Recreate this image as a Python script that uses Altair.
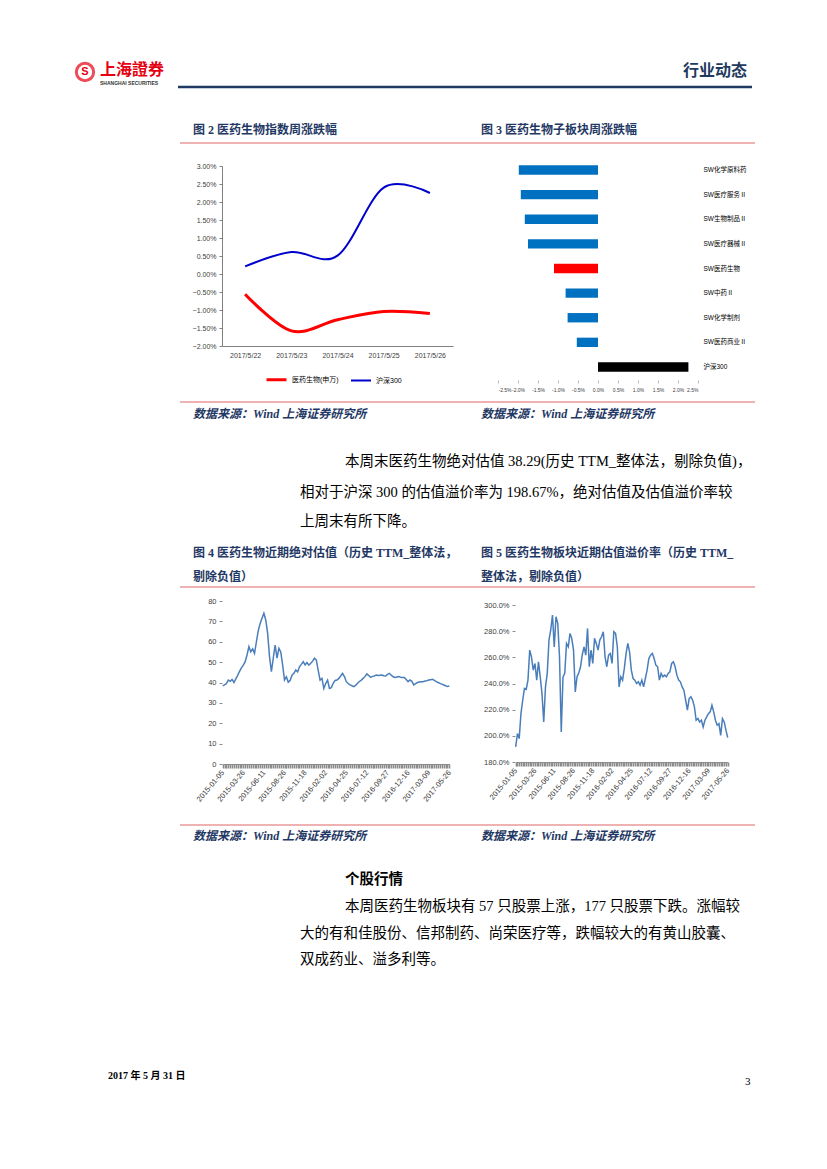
import json
import altair as alt
import pandas as pd

# ---------------- data ----------------
# Fig 2: weekly cumulative change
days2 = ["2017/5/22", "2017/5/23", "2017/5/24", "2017/5/25", "2017/5/26"]
series2 = ["医药生物(申万)", "沪深300"]
med2 = [-0.0056, -0.0158, -0.0127, -0.0104, -0.0110]
hs2 = [0.0021, 0.0061, 0.0051, 0.0240, 0.0225]

# Fig 3: sub-sector weekly change
cats3 = ["SW化学原料药", "SW医疗服务Ⅱ", "SW生物制品Ⅱ", "SW医疗器械Ⅱ", "SW医药生物",
         "SW中药Ⅱ", "SW化学制剂", "SW医药商业Ⅱ", "沪深300"]
vals3 = [-0.0198, -0.0193, -0.0183, -0.0175, -0.0110, -0.0081, -0.0076, -0.0053, 0.0226]
colors3 = ["#0070C0", "#0070C0", "#0070C0", "#0070C0", "#FF0000",
           "#0070C0", "#0070C0", "#0070C0", "#000000"]
ticks3 = [-0.025, -0.02, -0.015, -0.01, -0.005, 0.0, 0.005, 0.01, 0.015, 0.02, 0.025]
ticks2 = [-0.02, -0.015, -0.01, -0.005, 0.0, 0.005, 0.01, 0.015, 0.02, 0.025, 0.03]

labels45 = ["2015-01-05", "2015-03-26", "2015-06-11", "2015-08-26", "2015-11-18", "2016-02-02",
            "2016-04-25", "2016-07-12", "2016-09-27", "2016-12-16", "2017-03-09", "2017-05-26"]
pe4 = [38.3, 38.8, 39.5, 41.2, 40.6, 41.5, 40.0, 41.8, 43.5, 45.5,
       47.2, 48.5, 50.2, 53.5, 57.6, 55.1, 56.5, 54.3, 60.0, 65.5,
       69.0, 71.5, 74.0, 70.7, 64.1, 52.7, 45.3, 51.9, 58.4, 52.0,
       56.8, 55.0, 48.6, 41.2, 42.8, 40.2, 41.0, 43.6, 44.5, 46.1,
       45.2, 47.7, 48.9, 50.2, 48.6, 49.8, 48.5, 49.4, 50.5, 51.9,
       51.0, 46.0, 41.2, 42.0, 37.1, 39.5, 41.2, 37.1, 37.5, 39.6,
       41.0, 41.2, 42.0, 43.2, 44.5, 42.9, 40.4, 39.5, 38.8, 38.4,
       38.0, 38.6, 39.6, 40.5, 41.2, 42.0, 43.0, 44.2, 43.4, 42.5,
       43.0, 43.2, 43.7, 43.4, 43.6, 43.7, 43.3, 43.2, 44.0, 44.5,
       43.6, 42.8, 42.5, 42.7, 42.9, 42.6, 42.5, 42.5, 41.5, 40.4,
       41.2, 40.6, 38.8, 39.4, 40.0, 40.2, 40.4, 40.4, 40.7, 40.9,
       41.2, 41.4, 41.6, 41.0, 40.4, 40.0, 39.6, 39.2, 38.8, 38.4,
       38.0, 38.29]
pr5 = [191.5, 201.7, 197.9, 217.0, 227.2, 236.2, 235.5, 242.6, 265.5, 260.4,
       250.2, 255.3, 242.6, 256.6, 245.0, 232.3, 210.6, 237.4, 247.7, 273.2,
       280.9, 292.3, 268.0, 291.0, 286.0, 260.4, 203.0, 245.0, 247.7, 270.6,
       268.0, 278.3, 274.5, 265.5, 233.6, 245.1, 248.0, 252.8, 262.0, 268.0,
       261.7, 282.1, 252.8, 265.5, 255.3, 274.5, 270.6, 265.5, 273.2, 275.7,
       279.6, 260.4, 252.8, 261.7, 263.0, 255.3, 279.6, 278.3, 268.0, 237.4,
       245.1, 242.6, 251.5, 263.0, 270.6, 264.0, 250.2, 243.8, 242.6, 240.0,
       241.3, 238.7, 242.6, 237.4, 243.8, 250.2, 259.1, 261.7, 263.0, 259.1,
       254.0, 252.8, 242.6, 247.7, 245.1, 246.4, 245.1, 247.7, 248.9, 255.3,
       256.6, 252.8, 246.4, 242.6, 241.3, 237.4, 234.9, 227.2, 219.6, 228.5,
       229.8, 227.2, 222.1, 211.9, 213.2, 210.6, 211.9, 206.8, 211.9, 214.5,
       217.0, 218.3, 223.4, 218.3, 211.9, 208.1, 209.4, 200.4, 213.2, 210.6,
       204.3, 198.67]

# ---------------- styles ----------------
SERIF = "Liberation Serif, Noto Sans CJK SC"
SANS = "Liberation Sans, Noto Sans CJK SC"
CJK = "Noto Sans CJK SC"
NAVY = "#1F3864"
RED_LINE = "#E06666"
W, H = 811, 1153
one = pd.DataFrame({"k": [0]})


def text(s, x, y, size=14.5, font=SERIF, color="#000000", weight="normal",
         style="normal", align="left", baseline="middle"):
    return alt.Chart(one).mark_text(
        text=s, font=font, fontSize=size, color=color, fontWeight=weight,
        fontStyle=style, align=align, baseline=baseline
    ).encode(x=alt.value(x), y=alt.value(y))


def hline(x1, x2, y, color, width=1.0):
    return alt.Chart(one).mark_rule(color=color, strokeWidth=width).encode(
        x=alt.value(x1), x2=alt.value(x2), y=alt.value(y))


# ---------------- page text ----------------
src = "数据来源：Wind 上海证券研究所"
TS = 12  # figure title / source size
page = [
    alt.Chart(one).mark_point(shape="circle", size=300, filled=False, color="#E60012",
                              strokeWidth=3).encode(x=alt.value(77), y=alt.value(64)),
    text("S", 77, 64, size=11, font=SANS, color="#E60012", weight="bold", align="center"),
    text("上海證券", 92, 62, size=16, font=CJK, color="#E60012", weight="bold"),
    text("SHANGHAI SECURITIES", 92, 75, size=5, font=SANS, color="#333333", weight="bold"),
    text("行业动态", 739, 63, size=16, font=CJK, color="#1F3A5F", weight="bold", align="right"),
    hline(170, 744, 79, NAVY, 2.5),
    text("图 2 医药生物指数周涨跌幅", 185, 122, size=TS, color=NAVY, weight="bold"),
    text("图 3 医药生物子板块周涨跌幅", 473, 122, size=TS, color=NAVY, weight="bold"),
    hline(172, 747, 135, RED_LINE, 1.2),
    # middle block
    hline(172, 747, 394, RED_LINE, 1.2),
    text(src, 185, 406, size=TS, color=NAVY, weight="bold", style="italic"),
    text(src, 473, 406, size=TS, color=NAVY, weight="bold", style="italic"),
    text("本周末医药生物绝对估值 38.29(历史 TTM_整体法，剔除负值)，", 337, 454),
    text("相对于沪深 300 的估值溢价率为 198.67%，绝对估值及估值溢价率较", 292, 485),
    text("上周末有所下降。", 292, 514),
    text("图 4 医药生物近期绝对估值（历史 TTM_整体法，", 185, 545, size=TS, color=NAVY, weight="bold"),
    text("剔除负值）", 185, 569, size=TS, color=NAVY, weight="bold"),
    text("图 5 医药生物板块近期估值溢价率（历史 TTM_", 473, 545, size=TS, color=NAVY, weight="bold"),
    text("整体法，剔除负值）", 473, 569, size=TS, color=NAVY, weight="bold"),
    hline(172, 747, 579, RED_LINE, 1.2),
    # bottom block
    hline(172, 747, 817, RED_LINE, 1.2),
    text(src, 185, 828, size=TS, color=NAVY, weight="bold", style="italic"),
    text(src, 473, 828, size=TS, color=NAVY, weight="bold", style="italic"),
    text("个股行情", 337, 872, weight="bold"),
    text("本周医药生物板块有 57 只股票上涨，177 只股票下跌。涨幅较", 337, 899),
    text("大的有和佳股份、信邦制药、尚荣医疗等，跌幅较大的有黄山胶囊、", 292, 926),
    text("双成药业、溢多利等。", 292, 952),
    text("2017 年 5 月 31 日", 100, 1068, size=10, weight="bold"),
    text("3", 737, 1074, size=11),
]

# ---------------- fig 2 ----------------
F2X, F2Y = [214, 445], [338, 158]
df2 = pd.DataFrame({
    "day": days2 * 2,
    "v": med2 + hs2,
    "s": [series2[0]] * len(days2) + [series2[1]] * len(days2),
})
fig2 = alt.Chart(df2).mark_line(interpolate="cardinal", tension=0).encode(
    x=alt.X("day:O", sort=days2, scale=alt.Scale(type="point", padding=0.5, range=F2X),
            axis=alt.Axis(title=None, orient="bottom", offset=F2Y[0] - H, labelAngle=0,
                          ticks=False, labelFontSize=7, labelColor="#404040", labelPadding=5,
                          domainColor="#808080")),
    y=alt.Y("v:Q", scale=alt.Scale(domain=[-0.02, 0.03], nice=False, zero=False, range=F2Y),
            axis=alt.Axis(title=None, orient="left", offset=-F2X[0], values=ticks2,
                          format=".2%", grid=False, tickSize=3, tickColor="#808080",
                          domainColor="#808080", labelFontSize=7, labelColor="#404040",
                          labelPadding=3, labelOverlap=False)),
    color=alt.Color("s:N", sort=series2,
                    scale=alt.Scale(domain=series2, range=["#FF0000", "#0000CC"]),
                    legend=alt.Legend(title=None, orient="none", legendX=257, legendY=360,
                                      direction="horizontal", symbolType="stroke",
                                      symbolSize=400, symbolStrokeWidth=3,
                                      labelFontSize=7, labelFont=SANS, columnPadding=8)),
    strokeWidth=alt.StrokeWidth("s:N", scale=alt.Scale(domain=series2, range=[3, 2]),
                                legend=None),
)

# ---------------- fig 3 ----------------
F3X, F3Y = [490, 690], [149, 372]
df3 = pd.DataFrame({"c": cats3, "v": vals3})
fig3 = alt.Chart(df3).mark_bar().encode(
    y=alt.Y("c:N", sort=cats3,
            scale=alt.Scale(paddingInner=0.62, paddingOuter=0.34, range=F3Y),
            axis=alt.Axis(orient="right", offset=F3X[1] - W, title=None, domain=False,
                          ticks=False, labelFontSize=6.5, labelPadding=5,
                          labelColor="#000000", labelFont=SANS)),
    x=alt.X("v:Q", scale=alt.Scale(domain=[-0.025, 0.025], nice=False, range=F3X),
            axis=alt.Axis(title=None, orient="bottom", offset=F3Y[1] - H, values=ticks3,
                          labelExpr="replace(format(datum.value, '.1%'), '\u2212', '-')",
                          grid=False, domain=False, tickSize=3,
                          tickColor="#bbbbbb", labelFontSize=5, labelColor="#404040",
                          labelPadding=4, labelOverlap=False)),
    color=alt.Color("c:N", scale=alt.Scale(domain=cats3, range=colors3), legend=None),
)

# ---------------- fig 4 & fig 5 ----------------
n45 = len(pe4)
label_expr = ("datum.value % 11 === 0 ? " + json.dumps(labels45) +
              "[datum.value / 11] : ''")


def xaxis45(bottom):
    return alt.Axis(title=None, orient="bottom", offset=bottom - H, values=list(range(n45)),
                    labelExpr=label_expr, labelAngle=-50, labelAlign="right",
                    labelBaseline="middle", labelOverlap=False, labelBound=False,
                    labelFlush=False, labelFontSize=7.5, labelColor="#404040",
                    labelPadding=3, tickSize=4, tickWidth=1.6, tickColor="#8c8c8c",
                    domainColor="#8c8c8c", grid=False)


F4X, F4Y = [214.7, 441.3], [756, 593]
df4 = pd.DataFrame({"i": list(range(n45)), "v": pe4})
fig4 = alt.Chart(df4).mark_line(color="#4A7EBB", strokeWidth=1.5).encode(
    x=alt.X("i:Q", scale=alt.Scale(domain=[0, n45 - 1], nice=False, zero=False, range=F4X),
            axis=xaxis45(F4Y[0])),
    y=alt.Y("v:Q", scale=alt.Scale(domain=[0, 80], nice=False, range=F4Y),
            axis=alt.Axis(title=None, orient="left", offset=-214,
                          values=list(range(0, 81, 10)), domain=False,
                          tickSize=3, tickColor="#8c8c8c", grid=False, labelFontSize=7.5,
                          labelColor="#404040", labelPadding=3)),
)

F5X, F5Y = [507.7, 719.7], [754, 597]
df5 = pd.DataFrame({"i": list(range(n45)), "v": pr5})
fig5 = alt.Chart(df5).mark_line(color="#4A7EBB", strokeWidth=1.5).encode(
    x=alt.X("i:Q", scale=alt.Scale(domain=[0, n45 - 1], nice=False, zero=False, range=F5X),
            axis=xaxis45(F5Y[0])),
    y=alt.Y("v:Q", scale=alt.Scale(domain=[180, 300], nice=False, zero=False, range=F5Y),
            axis=alt.Axis(title=None, orient="left", offset=-507,
                          values=[180, 200, 220, 240, 260, 280, 300],
                          labelExpr="format(datum.value, '.1f') + '%'", domain=False,
                          tickSize=3, tickColor="#8c8c8c", grid=False, labelFontSize=7.5,
                          labelColor="#404040", labelPadding=3)),
)

chart = alt.layer(*page, fig2, fig3, fig4, fig5).resolve_scale(
    x="independent", y="independent", color="independent", strokeWidth="independent"
).resolve_axis(x="independent", y="independent").resolve_legend(
    color="independent"
).properties(width=W, height=H, padding=0).configure_view(stroke=None).configure_axis(
    labelFont=SANS)

chart.save("out.html", embed_options={"renderer": "svg", "actions": False})
